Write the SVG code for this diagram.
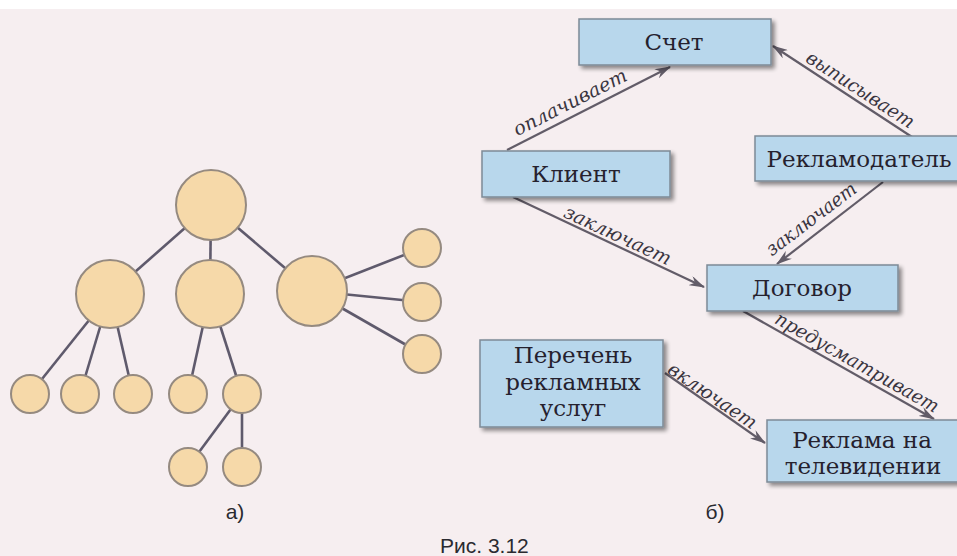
<svg xmlns="http://www.w3.org/2000/svg" width="957" height="556" viewBox="0 0 957 556">
<defs>
<style>
.bg{fill:#f6eef0}
.edge{stroke:#5f5a6c;stroke-width:2.6;fill:none}
.c{fill:#f6d9a9;stroke:#958a80;stroke-width:2}
.box{fill:#b8d7ec;stroke:#7e8a96;stroke-width:1.5;filter:url(#sh)}
.bt{font-family:"DejaVu Serif","Liberation Serif",serif;font-size:23px;fill:#25212e;text-anchor:middle}
.conn{stroke:#625c68;stroke-width:2.2;fill:none;marker-end:url(#ah)}
.lbl{font-family:"DejaVu Serif","Liberation Serif",serif;font-style:italic;font-size:19px;fill:#3a3540;text-anchor:middle}
.cap{font-family:"Liberation Sans",Arial,sans-serif;font-size:21px;fill:#2a2a30}
</style>
<filter id="sh" x="-10%" y="-20%" width="130%" height="150%">
<feGaussianBlur in="SourceAlpha" stdDeviation="2"/>
<feOffset dx="3" dy="3" result="b"/>
<feComponentTransfer><feFuncA type="linear" slope="0.45"/></feComponentTransfer>
<feMerge><feMergeNode/><feMergeNode in="SourceGraphic"/></feMerge>
</filter>
<marker id="ah" viewBox="0 0 16 10" refX="15" refY="5" markerWidth="16" markerHeight="10" markerUnits="userSpaceOnUse" orient="auto">
<path d="M0,0 L16,5 L0,10 L5,5 z" fill="#625c68"/>
</marker>
</defs>
<rect class="bg" x="0" y="0" width="957" height="556"/>
<rect x="0" y="0" width="957" height="9" fill="#ffffff"/>

<!-- a) tree -->
<g id="tree-edges">
<line class="edge" x1="211" y1="205" x2="110" y2="294"/>
<line class="edge" x1="211" y1="205" x2="210" y2="294"/>
<line class="edge" x1="211" y1="205" x2="312" y2="291"/>
<line class="edge" x1="110" y1="294" x2="30" y2="394"/>
<line class="edge" x1="110" y1="294" x2="80" y2="394"/>
<line class="edge" x1="110" y1="294" x2="133" y2="394"/>
<line class="edge" x1="210" y1="294" x2="188" y2="394"/>
<line class="edge" x1="210" y1="294" x2="242" y2="394"/>
<line class="edge" x1="242" y1="394" x2="188" y2="467"/>
<line class="edge" x1="242" y1="394" x2="242" y2="467"/>
<line class="edge" x1="312" y1="291" x2="422" y2="248"/>
<line class="edge" x1="312" y1="291" x2="422" y2="302"/>
<line class="edge" x1="312" y1="291" x2="422" y2="354"/>
</g>
<g id="t-root"><circle class="c" cx="211" cy="205" r="35"/></g>
<g id="t-l"><circle class="c" cx="110" cy="294" r="34"/></g>
<g id="t-m"><circle class="c" cx="210" cy="294" r="34"/></g>
<g id="t-r"><circle class="c" cx="312" cy="291" r="35"/></g>
<g id="t-r1"><circle class="c" cx="422" cy="248" r="19"/></g>
<g id="t-r2"><circle class="c" cx="422" cy="302" r="19"/></g>
<g id="t-r3"><circle class="c" cx="422" cy="354" r="19"/></g>
<g id="t-b1"><circle class="c" cx="30" cy="394" r="19"/></g>
<g id="t-b2"><circle class="c" cx="80" cy="394" r="19"/></g>
<g id="t-b3"><circle class="c" cx="133" cy="394" r="19"/></g>
<g id="t-b4"><circle class="c" cx="188" cy="394" r="19"/></g>
<g id="t-b5"><circle class="c" cx="242" cy="394" r="19"/></g>
<g id="t-c1"><circle class="c" cx="188" cy="467" r="19"/></g>
<g id="t-c2"><circle class="c" cx="242" cy="467" r="19"/></g>
<text class="cap" x="235" y="519" text-anchor="middle">а)</text>

<!-- b) concept map -->
<g id="connectors">
<line class="conn" x1="507" y1="150" x2="670" y2="67"/>
<line class="conn" x1="912" y1="137" x2="773" y2="46"/>
<line class="conn" x1="513" y1="197" x2="704" y2="287"/>
<line class="conn" x1="883" y1="182" x2="777" y2="264"/>
<line class="conn" x1="743" y1="311" x2="934" y2="419"/>
<line class="conn" x1="665" y1="373" x2="765" y2="443"/>
<text class="lbl" x="573" y="108" transform="rotate(-27 573 108)" textLength="125" lengthAdjust="spacingAndGlyphs">оплачивает</text>
<text class="lbl" x="857" y="95" transform="rotate(33 857 95)" textLength="125" lengthAdjust="spacingAndGlyphs">выписывает</text>
<text class="lbl" x="615" y="241" transform="rotate(25 615 241)" textLength="116" lengthAdjust="spacingAndGlyphs">заключает</text>
<text class="lbl" x="815" y="224" transform="rotate(-37 815 224)" textLength="108" lengthAdjust="spacingAndGlyphs">заключает</text>
<text class="lbl" x="854" y="368" transform="rotate(29.4 854 368)" textLength="185" lengthAdjust="spacingAndGlyphs">предусматривает</text>
<text class="lbl" x="709" y="401" transform="rotate(34 709 401)" textLength="103" lengthAdjust="spacingAndGlyphs">включает</text>
</g>

<g id="n-schet">
<rect class="box" x="579" y="19" width="192" height="46"/>
<text class="bt" x="674" y="50">Счет</text>
</g>
<g id="n-klient">
<rect class="box" x="482" y="151" width="188" height="46"/>
<text class="bt" x="576" y="182">Клиент</text>
</g>
<g id="n-reklamodatel">
<rect class="box" x="755" y="136" width="205" height="45"/>
<text class="bt" x="859" y="167">Рекламодатель</text>
</g>
<g id="n-dogovor">
<rect class="box" x="707" y="265" width="191" height="46"/>
<text class="bt" x="802" y="296">Договор</text>
</g>
<g id="n-perechen">
<rect class="box" x="480" y="340" width="183" height="87"/>
<text class="bt" x="573" y="363">Перечень</text>
<text class="bt" x="573" y="390">рекламных</text>
<text class="bt" x="573" y="416">услуг</text>
</g>
<g id="n-reklama-tv">
<rect class="box" x="767" y="420" width="193" height="62"/>
<text class="bt" x="862" y="448">Реклама на</text>
<text class="bt" x="863" y="474">телевидении</text>
</g>
<text class="cap" x="715" y="519" text-anchor="middle">б)</text>
<text class="cap" x="440" y="553">Рис. 3.12</text>
</svg>
